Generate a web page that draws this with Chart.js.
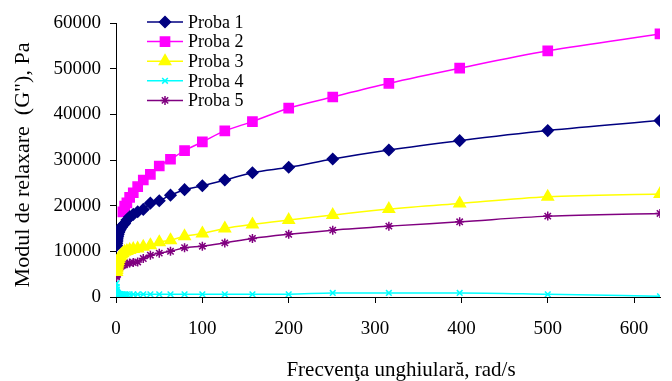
<!DOCTYPE html>
<html>
<head>
<meta charset="utf-8">
<script src="https://cdn.jsdelivr.net/npm/chart.js@4/dist/chart.umd.min.js"></script>
<style>
  body { margin: 0; background: #fff; }
  canvas { display: block; }
</style>
</head>
<body>
<canvas id="relaxChart" width="672" height="381"></canvas>
<script>
// angular frequency, rad/s (10 points per decade)
const freq = [0.631, 0.794, 1, 1.26, 1.58, 2, 2.51, 3.16, 3.98, 5.01, 6.31, 7.94, 10, 12.6, 15.8,
  20, 25.1, 31.6, 39.8, 50.1, 63.1, 79.4, 100, 126, 158, 200, 251, 316, 398, 500, 630];
const freqProba2 = freq.slice(11);

const xTicks = [0, 100, 200, 300, 400, 500, 600];
const yTicks = [0, 10000, 20000, 30000, 40000, 50000, 60000];

// G'' in Pa
const proba1 = [11300, 11700, 12100, 12500, 12900, 13300, 13700, 14100, 14500, 14900, 15300, 15700, 16100,
  16840, 17560, 18090, 18660, 19180, 20550, 21070, 22300, 23500, 24360, 25610, 27220, 28400, 30230,
  32200, 34240, 36440, 38630];
const proba2 = [18660, 19910, 20630, 21820, 22830, 24150, 25620, 26870, 28690, 30160, 32050, 33960,
  36370, 38410, 41350, 43800, 46800, 50100, 53900, 57600];
const proba3 = [5500, 5900, 6300, 6700, 7100, 7500, 7900, 8300, 8700, 9000, 9300, 9600, 9900, 10100,
  10300, 10500, 10620, 10980, 11350, 12000, 12450, 13300, 13920, 15010, 15890, 16840, 17930, 19250,
  20500, 21950, 22540];
const proba4 = [3000, 2200, 1600, 1200, 1000, 850, 750, 700, 650, 620, 600, 600, 600, 600, 600, 600,
  600, 600, 600, 600, 600, 600, 600, 600, 600, 600, 880, 880, 880, 600, 150];
const proba5 = [4400, 4700, 5000, 5250, 5500, 5750, 6000, 6200, 6400, 6600, 6800, 7000, 7150, 7300,
  7450, 7550, 7680, 8430, 9150, 9600, 10000, 10800, 11130, 11850, 12820, 13730, 14640, 15520, 16460,
  17710, 18300];

const xTitle = 'Frecvenţa unghiulară, rad/s';
const yTitle = 'Modul de relaxare  (G"), Pa';

const serif = "'Liberation Serif', 'Times New Roman', serif";

function points(xs, ys) {
  return ys.map((y, i) => ({ x: xs[i], y: y }));
}

function series(label, xs, ys, color, style, radius) {
  return {
    label: label,
    data: points(xs, ys),
    borderColor: color,
    backgroundColor: color,
    pointBackgroundColor: color,
    pointBorderColor: color,
    borderWidth: 1.5,
    pointStyle: style,
    pointRadius: radius,
    pointBorderWidth: 1.5,
    cubicInterpolationMode: 'monotone',
  };
}

// legend drawn inside the plot, top left
const innerLegend = {
  id: 'innerLegend',
  afterDatasetsDraw(chart) {
    const ctx = chart.ctx;
    const x0 = 147, x1 = 183, textX = 188, top = 22, step = 19.6;
    ctx.save();
    chart.data.datasets.forEach((ds, i) => {
      const y = top + i * step;
      ctx.strokeStyle = ds.borderColor;
      ctx.fillStyle = ds.borderColor;
      ctx.lineWidth = 1.5;
      ctx.beginPath();
      ctx.moveTo(x0, y);
      ctx.lineTo(x1, y);
      ctx.stroke();
      Chart.helpers.drawPoint(ctx, {
        pointStyle: ds.pointStyle, radius: ds.pointRadius, rotation: 0, borderWidth: 1.5
      }, (x0 + x1) / 2, y);
      ctx.fillStyle = '#000';
      ctx.font = '18px ' + serif;
      ctx.textBaseline = 'middle';
      ctx.textAlign = 'left';
      ctx.fillText(ds.label, textX, y + 1);
    });
    ctx.restore();
  }
};

// axis titles
const axisTitles = {
  id: 'axisTitles',
  afterDraw(chart) {
    const ctx = chart.ctx;
    ctx.save();
    ctx.fillStyle = '#000';
    ctx.font = '21px ' + serif;
    ctx.textAlign = 'center';
    ctx.textBaseline = 'middle';
    ctx.fillText(xTitle, 401, 370);
    ctx.font = '22px ' + serif;
    ctx.translate(23, 165);
    ctx.rotate(-Math.PI / 2);
    ctx.fillText(yTitle, 0, 0);
    ctx.restore();
  }
};

const ctx = document.getElementById('relaxChart').getContext('2d');
const chart = new Chart(ctx, {
  type: 'line',
  data: {
    datasets: [
      series('Proba 1', freq, proba1, '#000080', 'rectRot', 5.5),
      series('Proba 2', freqProba2, proba2, '#FF00FF', 'rect', 6.5),
      series('Proba 3', freq, proba3, '#FFFF00', 'triangle', 6.5),
      series('Proba 4', freq, proba4, '#00FFFF', 'crossRot', 4),
      series('Proba 5', freq, proba5, '#800080', 'star', 4.5),
    ],
  },
  options: {
    responsive: false,
    animation: false,
    layout: { padding: { top: 23, right: 12, left: 0, bottom: 0 } },
    plugins: {
      legend: { display: false },
      tooltip: { enabled: false },
    },
    scales: {
      x: {
        type: 'linear',
        min: 0,
        max: 630,
        afterBuildTicks: (scale) => {
          scale.ticks = xTicks.map(v => ({ value: v }));
        },
        afterFit: (scale) => { scale.height = 84; },
        grid: { drawOnChartArea: false, drawTicks: true, tickLength: 6, color: '#000', lineWidth: 1 },
        border: { display: true, color: '#000', width: 1 },
        ticks: { color: '#000', padding: 15, maxRotation: 0, font: { family: serif, size: 19 } },
      },
      y: {
        min: 0,
        max: 60000,
        afterBuildTicks: (scale) => {
          scale.ticks = yTicks.map(v => ({ value: v }));
        },
        afterFit: (scale) => { scale.width = 116; },
        grid: { drawOnChartArea: false, drawTicks: true, tickLength: 6, color: '#000', lineWidth: 1 },
        border: { display: true, color: '#000', width: 1 },
        ticks: {
          color: '#000',
          padding: 9,
          font: { family: serif, size: 19 },
          callback: (v) => String(v),
        },
      },
    },
  },
  plugins: [innerLegend, axisTitles],
});
</script>
</body>
</html>
